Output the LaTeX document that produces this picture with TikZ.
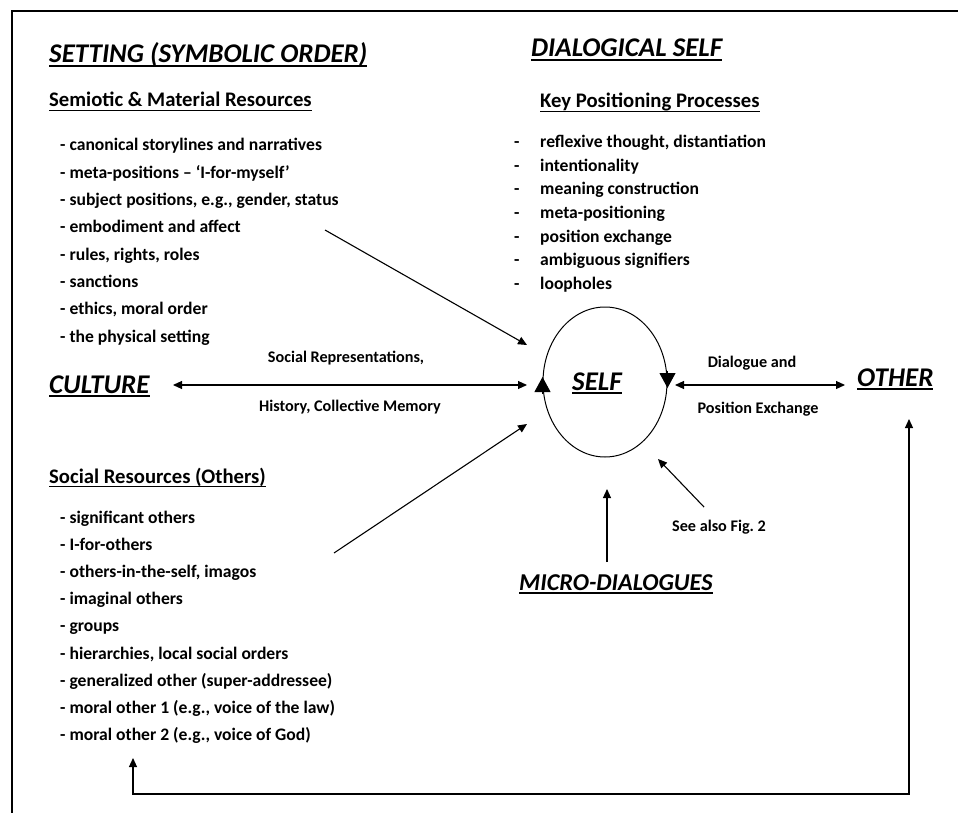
\documentclass[tikz,border=0pt]{standalone}
\usepackage{fontspec}
\setmainfont{Carlito}
\usetikzlibrary{arrows.meta,shapes.geometric}

% underlined text with a rule scaled to the heading
\newcommand\ulbox[2][3.6pt]{\setbox0=\hbox{#2}\rlap{\copy0}\lower#1\hbox{\vrule width\wd0 height 1.3pt depth 0pt}}

\tikzset{
  head/.style={anchor=base west, inner sep=0pt, font=\fontsize{27}{31}\selectfont\bfseries\itshape},
  subhead/.style={anchor=base west, inner sep=0pt, font=\fontsize{20.7}{24}\selectfont\bfseries},
  item/.style={anchor=base west, inner sep=0pt, font=\fontsize{17.6}{20}\selectfont\bfseries},
  lab/.style={anchor=base, inner sep=0pt, font=\fontsize{16.2}{19}\selectfont\bfseries},
  arr/.style={line width=1.1pt, -{Triangle[length=9pt,width=8pt]}},
  dbl/.style={line width=1.1pt, {Triangle[length=9pt,width=8pt]}-{Triangle[length=9pt,width=8pt]}},
  cyc/.style={line width=1pt, -{Triangle[length=15pt,width=16pt]}},
}

\begin{document}
\begin{tikzpicture}[x=1pt,y=-1pt]
\useasboundingbox (0,0) rectangle (958,813);

% frame
\draw[line width=2pt] (12,813) -- (12,11) -- (958,11);

% setting column
\node[head] (setting) at (49,63) {\ulbox{SETTING (SYMBOLIC ORDER)}};
\node[subhead] (semiotic) at (49,107) {\ulbox[4pt]{Semiotic \& Material Resources}};
\foreach \t [count=\i from 0] in {{canonical storylines and narratives},
  {meta-positions -- ‘I-for-myself’},
  {subject positions, e.g., gender, status},
  {embodiment and affect},
  {rules, rights, roles},
  {sanctions},
  {ethics, moral order},
  {the physical setting}}
  \node[item] (sm\i) at (60,151+27.3*\i) {- \t};

% dialogical self column
\node[head] (dialogical) at (531,57) {\ulbox{DIALOGICAL SELF}};
\node[subhead] (keypos) at (540,108) {\ulbox[4pt]{Key Positioning Processes}};
\foreach \t [count=\i from 0] in {{reflexive thought, distantiation},
  {intentionality},
  {meaning construction},
  {meta-positioning},
  {position exchange},
  {ambiguous signifiers},
  {loopholes}}
  \node[item] (kp\i) at (514,148+23.5*\i) {\makebox[26pt][l]{-}\t};

% social resources
\node[subhead] (socres) at (49,483) {\ulbox[4pt]{Social Resources (Others)}};
\foreach \t [count=\i from 0] in {{significant others},
  {I-for-others},
  {others-in-the-self, imagos},
  {imaginal others},
  {groups},
  {hierarchies, local social orders},
  {generalized other (super-addressee)},
  {moral other 1 (e.g., voice of the law)},
  {moral other 2 (e.g., voice of God)}}
  \node[item] (sr\i) at (60,523+27.2*\i) {- \t};

% central self with its circulating arrowheads
\node[draw, ellipse, line width=1pt, minimum width=124pt, minimum height=150pt, inner sep=0pt] (self) at (605,382) {};
\node[head] (selftxt) at (572,390) {\ulbox{SELF}};
\draw[cyc] ([yshift=-12pt]self.west) -- ([yshift=5pt]self.west);
\draw[cyc] ([yshift=11pt]self.east) -- ([yshift=-6pt]self.east);

\node[head] (culture) at (49,393) {\ulbox{CULTURE}};
\node[head] (other) at (857,386) {\ulbox{OTHER}};
\node[head, font=\fontsize{24.2}{28}\selectfont\bfseries\itshape] (micro) at (519,590) {\ulbox{MICRO-DIALOGUES}};

\node[lab] (socrep) at (346,362) {Social Representations,};
\node[lab] (history) at (350,411) {History, Collective Memory};
\node[lab] (dialog) at (752,367) {Dialogue and};
\node[lab] (posex) at (758,413) {Position Exchange};
\node[lab] (seealso) at (719,531) {See also Fig.\ 2};

% connector ends
\coordinate (cultR) at (173,385);
\coordinate (selfL) at (527,385);
\coordinate (semEnd) at (325,230);
\coordinate (selfUL) at (527,345);
\coordinate (socEnd) at (334,553);
\coordinate (selfLL) at (527,424);
\coordinate (selfR) at (675,385);
\coordinate (otherL) at (845,385);
\coordinate (microTop) at (607,562);
\coordinate (selfB) at (607,489);
\coordinate (seeTop) at (704,507);
\coordinate (selfLR) at (658,459);
\coordinate (loopL) at (133,758);
\coordinate (loopBL) at (133,794);
\coordinate (loopBR) at (909,794);
\coordinate (otherB) at (909,419);

\draw[dbl] (cultR) -- (selfL);
\draw[arr] (semEnd) -- (selfUL);
\draw[arr] (socEnd) -- (selfLL);
\draw[dbl] (selfR) -- (otherL);
\draw[arr] (microTop) -- (selfB);
\draw[arr] (seeTop) -- (selfLR);
\draw[dbl] (loopL) -- (loopBL) -- (loopBR) -- (otherB);
\end{tikzpicture}
\end{document}
